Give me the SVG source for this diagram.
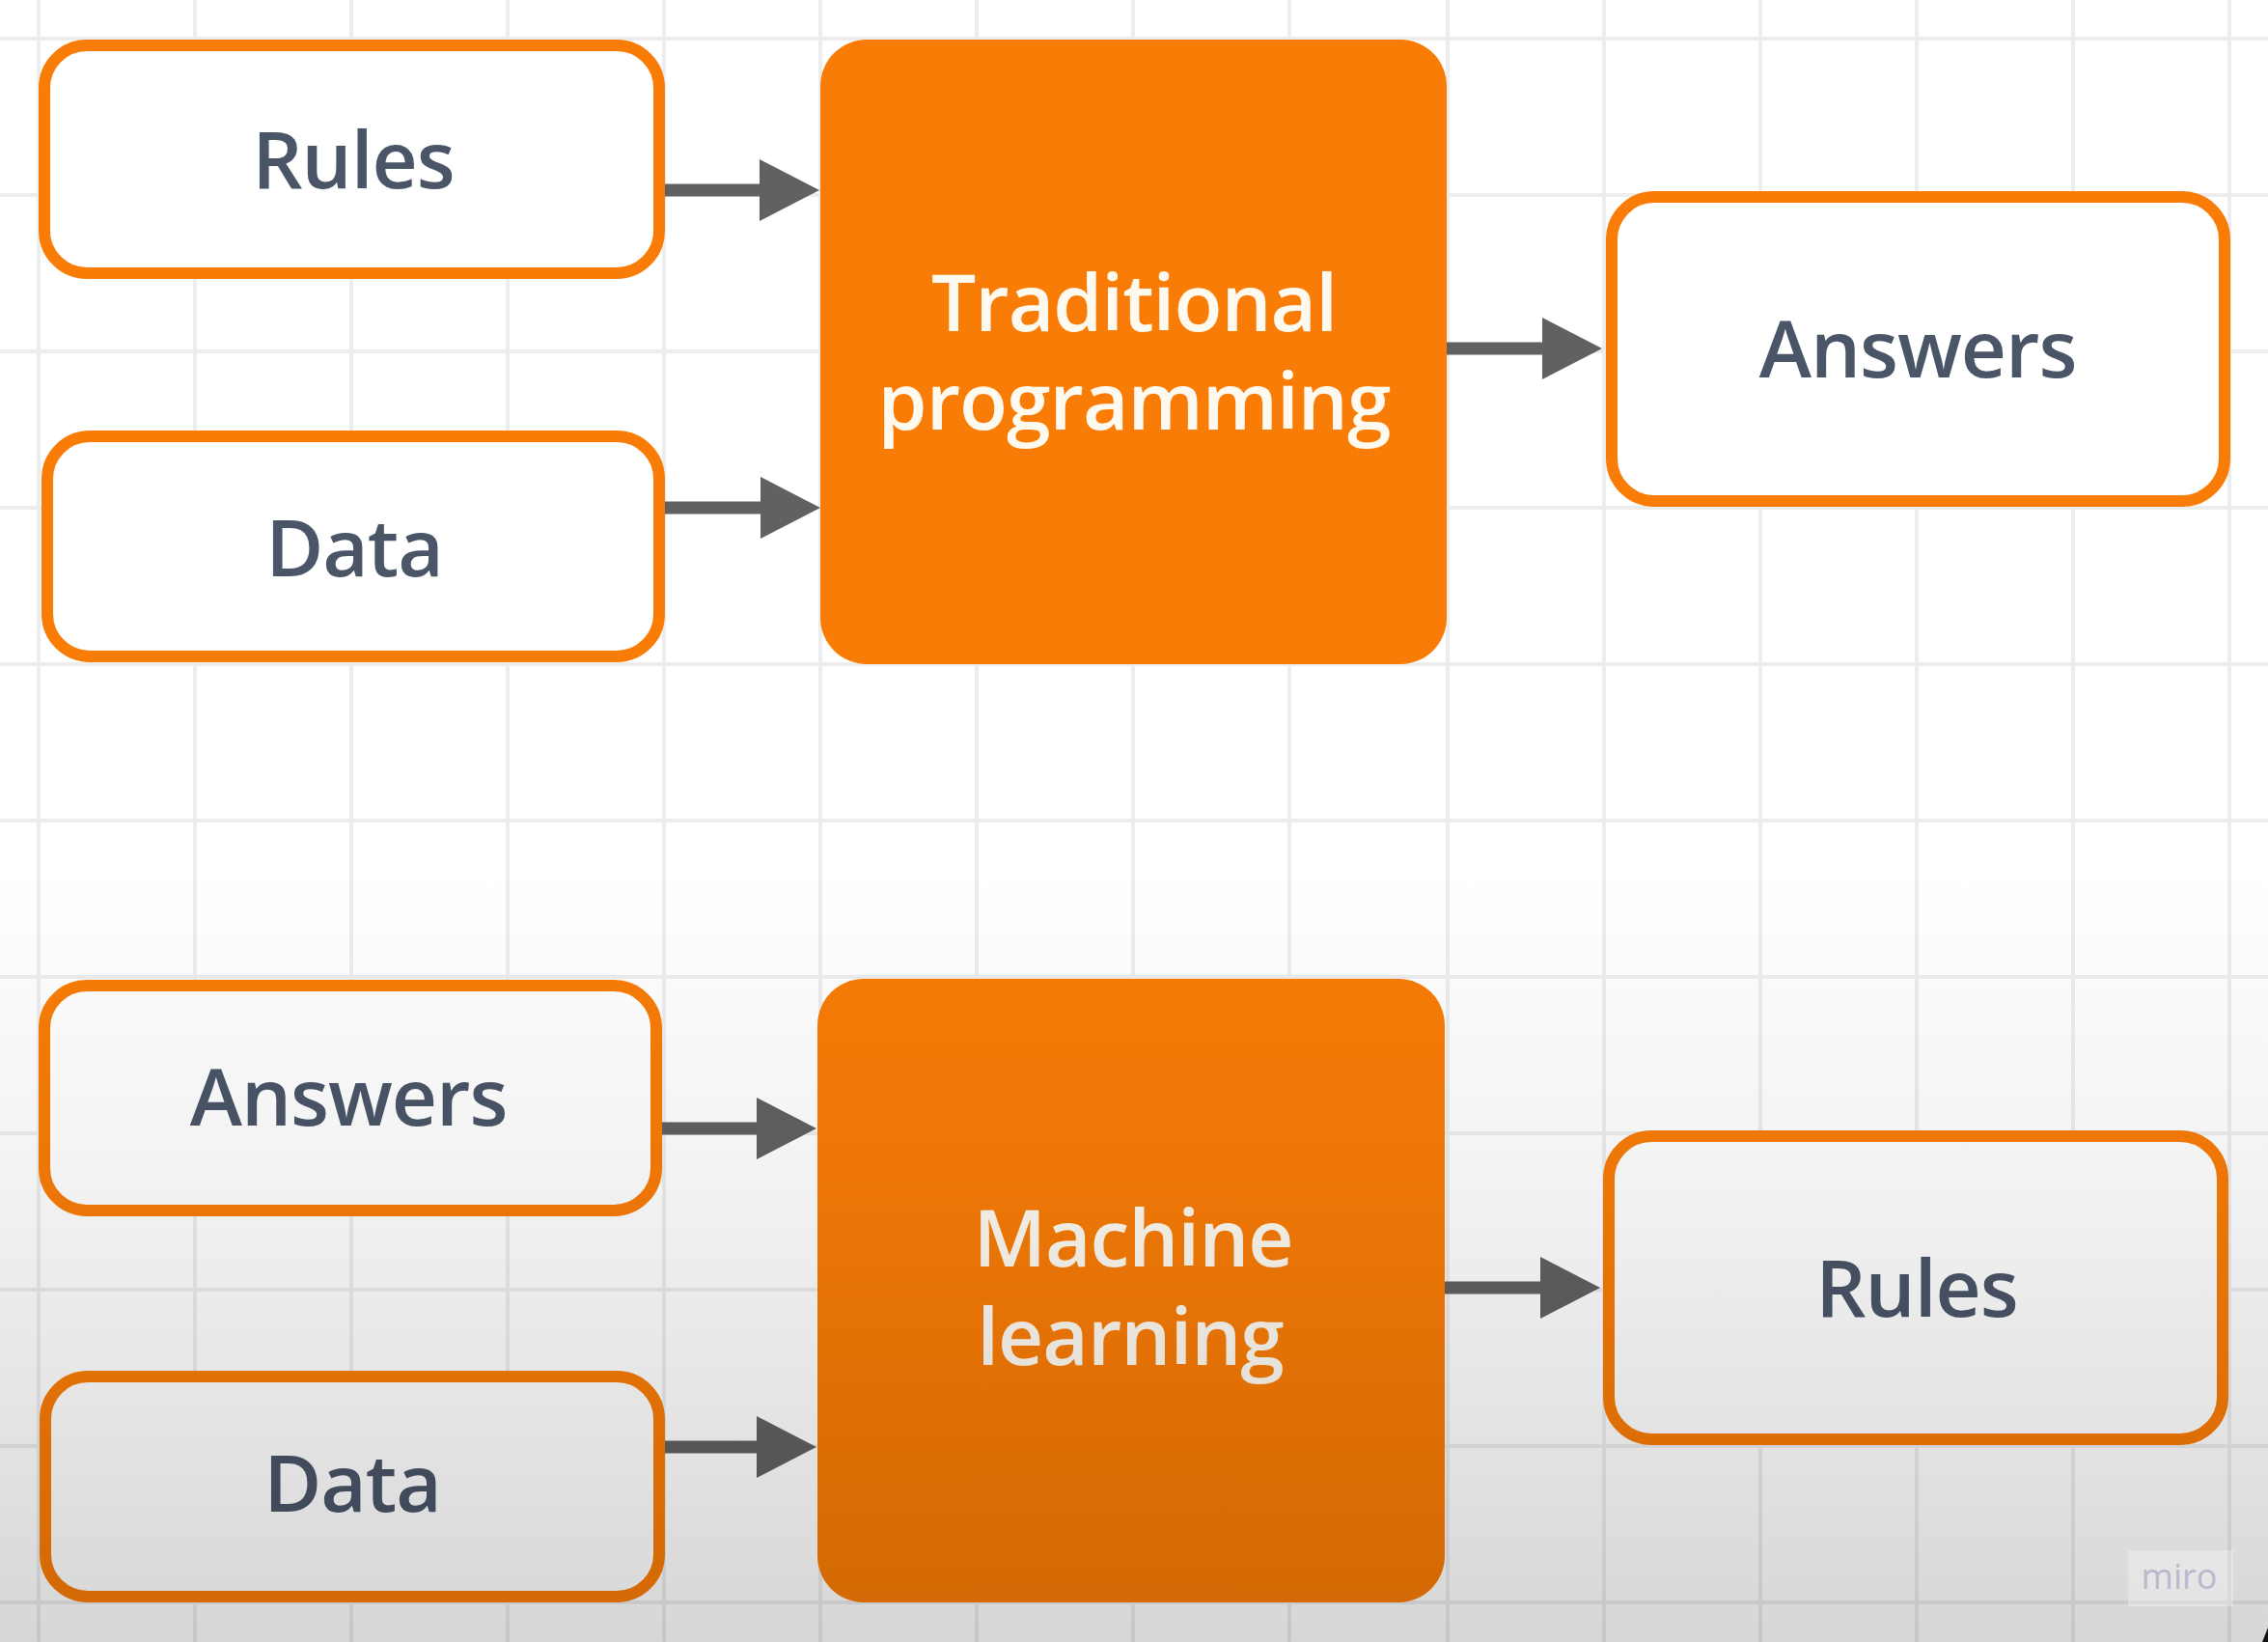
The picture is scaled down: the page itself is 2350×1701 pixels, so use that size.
<svg xmlns="http://www.w3.org/2000/svg" width="2350" height="1701" viewBox="0 0 2350 1701">
  <defs>
    <style>
      .grid line { stroke: #ededed; stroke-width: 4; }
      .box { fill: #ffffff; stroke: #f97c06; stroke-width: 12; }
      .core { fill: #f97c06; }
      .lbl { font-family: "Open Sans", "Liberation Sans", sans-serif; font-weight: 600; font-size: 82px; letter-spacing: -1px; fill: #4a5568; text-anchor: middle; }
      .wlbl { font-family: "Open Sans", "Liberation Sans", sans-serif; font-weight: 600; font-size: 82px; letter-spacing: -1px; fill: #fffaf0; text-anchor: middle; }
      .conn line { stroke: #616161; stroke-width: 13; marker-end: url(#head); }
    </style>
    <marker id="head" markerUnits="userSpaceOnUse" viewBox="0 0 62 64" refX="5" refY="32" markerWidth="62" markerHeight="64" orient="auto">
      <path d="M0,0 L62,32 L0,64 Z" fill="#616161"/>
    </marker>
    <linearGradient id="shade" x1="0" y1="0" x2="0" y2="1">
      <stop offset="0" stop-color="#000" stop-opacity="0"/>
      <stop offset="0.4" stop-color="#000" stop-opacity="0.05"/>
      <stop offset="1" stop-color="#000" stop-opacity="0.16"/>
    </linearGradient>
  </defs>

  <rect width="2350" height="1701" fill="#ffffff"/>

  <g class="grid" id="grid">
    <line x1="40" y1="0" x2="40" y2="1701"/>
    <line x1="202" y1="0" x2="202" y2="1701"/>
    <line x1="364" y1="0" x2="364" y2="1701"/>
    <line x1="526" y1="0" x2="526" y2="1701"/>
    <line x1="688" y1="0" x2="688" y2="1701"/>
    <line x1="850" y1="0" x2="850" y2="1701"/>
    <line x1="1012" y1="0" x2="1012" y2="1701"/>
    <line x1="1174" y1="0" x2="1174" y2="1701"/>
    <line x1="1336" y1="0" x2="1336" y2="1701"/>
    <line x1="1500" y1="0" x2="1500" y2="1701"/>
    <line x1="1662" y1="0" x2="1662" y2="1701"/>
    <line x1="1824" y1="0" x2="1824" y2="1701"/>
    <line x1="1986" y1="0" x2="1986" y2="1701"/>
    <line x1="2148" y1="0" x2="2148" y2="1701"/>
    <line x1="2310" y1="0" x2="2310" y2="1701"/>
    <line x1="0" y1="40" x2="2350" y2="40"/>
    <line x1="0" y1="202" x2="2350" y2="202"/>
    <line x1="0" y1="364" x2="2350" y2="364"/>
    <line x1="0" y1="526" x2="2350" y2="526"/>
    <line x1="0" y1="688" x2="2350" y2="688"/>
    <line x1="0" y1="850" x2="2350" y2="850"/>
    <line x1="0" y1="1012" x2="2350" y2="1012"/>
    <line x1="0" y1="1174" x2="2350" y2="1174"/>
    <line x1="0" y1="1336" x2="2350" y2="1336"/>
    <line x1="0" y1="1498" x2="2350" y2="1498"/>
    <line x1="0" y1="1660" x2="2350" y2="1660"/>
  </g>

  <g class="conn" id="connectors">
    <line x1="689" y1="197" x2="792" y2="197"/>
    <line x1="689" y1="526" x2="793" y2="526"/>
    <line x1="1499" y1="361" x2="1603" y2="361"/>
    <line x1="686" y1="1169" x2="789" y2="1169"/>
    <line x1="689" y1="1499" x2="789" y2="1499"/>
    <line x1="1497" y1="1334" x2="1601" y2="1334"/>
  </g>

  <g id="rules-in">
    <rect class="box" x="46" y="47" width="637" height="236" rx="44"/>
    <text class="lbl" x="366" y="195">Rules</text>
  </g>
  <g id="data-in-1">
    <rect class="box" x="49" y="452" width="634" height="228" rx="44"/>
    <text class="lbl" x="367" y="597">Data</text>
  </g>
  <g id="traditional">
    <rect class="core" x="850" y="41" width="649" height="647" rx="48"/>
    <text class="wlbl"><tspan x="1175" y="343">Traditional</tspan><tspan x="1175" y="445">programming</tspan></text>
  </g>
  <g id="answers-out">
    <rect class="box" x="1670" y="204" width="635" height="315" rx="44"/>
    <text class="lbl" x="1987" y="391">Answers</text>
  </g>

  <g id="answers-in">
    <rect class="box" x="46" y="1021" width="634" height="233" rx="44"/>
    <text class="lbl" x="361" y="1166">Answers</text>
  </g>
  <g id="data-in-2">
    <rect class="box" x="47" y="1426" width="636" height="228" rx="44"/>
    <text class="lbl" x="365" y="1566">Data</text>
  </g>
  <g id="machine-learning">
    <rect class="core" x="847" y="1014" width="650" height="646" rx="48"/>
    <text class="wlbl"><tspan x="1174" y="1312">Machine</tspan><tspan x="1171" y="1414">learning</tspan></text>
  </g>
  <g id="rules-out">
    <rect class="box" x="1667" y="1177" width="636" height="314" rx="44"/>
    <text class="lbl" x="1986" y="1364">Rules</text>
  </g>

  <rect x="0" y="900" width="2350" height="801" fill="url(#shade)"/>

  <g id="watermark">
    <rect x="2205" y="1606" width="109" height="58" fill="#ffffff" fill-opacity="0.3"/>
    <text x="2258" y="1646" font-family="'Open Sans', 'Liberation Sans', sans-serif" font-size="36" fill="#b9b8cc" text-anchor="middle">miro</text>
  </g>
  <polygon points="2350,1686 2344,1701 2350,1701" fill="#111111"/>
</svg>
